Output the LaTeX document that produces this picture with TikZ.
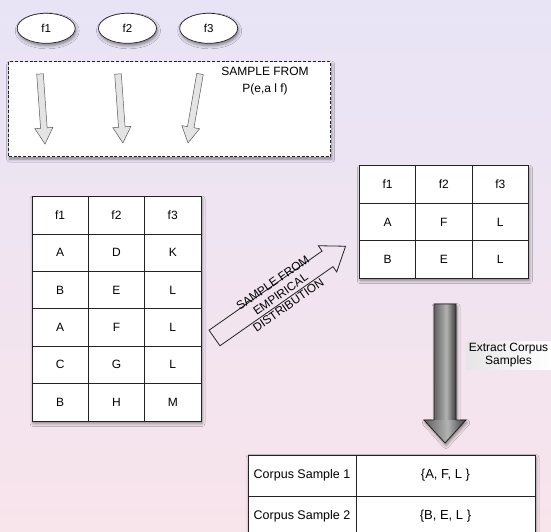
\documentclass[tikz,border=0pt]{standalone}
\usepackage{fontspec}
\setmainfont{Liberation Sans}
\usetikzlibrary{shapes.geometric,shadows.blur}

\definecolor{bgtop}{RGB}{232,228,246}
\definecolor{bgbottom}{RGB}{248,228,235}
\definecolor{ink}{RGB}{35,35,35}
\definecolor{paleblock}{RGB}{228,228,228}

% metallic look for the big down arrow (path box maps to 25bp..75bp)
\pgfdeclarehorizontalshading{cylgray}{100bp}{color(0bp)=(black!62); color(25bp)=(black!62); color(53bp)=(black!30); color(75bp)=(black!78); color(100bp)=(black!78)}

\tikzset{
  softshadow/.style={blur shadow={shadow xshift=1pt, shadow yshift=-2.5pt, shadow blur radius=3pt, shadow opacity=45}},
  fnode/.style={ellipse, draw=ink, line width=0.7pt, fill=white, minimum width=58pt, minimum height=30pt, inner sep=0pt, softshadow, font=\fontsize{11.5}{13}\selectfont},
  cell/.style={draw=ink, line width=0.8pt, inner sep=0pt, anchor=center},
  thinblock/.style={draw=black!65, fill=paleblock, line width=0.5pt, line join=miter},
  hollowblock/.style={draw=ink, line width=0.8pt, line join=miter},
  % block arrow along local x: length, shaft half width, head half width, head length
  pics/blockarrow/.style n args={4}{code={
    \path[pic actions] (0,-#2) -- ({#1-#4},-#2) -- ({#1-#4},-#3) -- (#1,0) -- ({#1-#4},#3) -- ({#1-#4},#2) -- (0,#2) -- cycle;}},
}

\begin{document}
\begin{tikzpicture}[x=1pt,y=-1pt]
\useasboundingbox (0,0) rectangle (551,532);
\clip (0,0) rectangle (551,532);
\shade[top color=bgtop, bottom color=bgbottom] (0,0) rectangle (551,532);

% foreign words
\node[fnode] (f1) at (46.2,28.3) {f1};
\node[fnode] (f2) at (127.5,28.3) {f2};
\node[fnode] (f3) at (208.7,28.3) {f3};

% sampling box
\node[draw=ink, line width=0.7pt, dash pattern=on 3pt off 1.8pt, fill=white, softshadow,
      minimum width=322pt, minimum height=95pt, inner sep=0pt] (pbox) at (169.7,109.2) {};
\node[font=\fontsize{12}{16.6}\selectfont, align=center, inner sep=0pt] (plabel) at (265,81) {SAMPLE FROM\\P(e,a l f)};
\pic[thinblock, rotate=-85.9] at (40,74) {blockarrow={70.2}{3.3}{9}{16}};
\pic[thinblock, rotate=-85.9] at (118,74) {blockarrow={69.2}{3.3}{9}{16}};
\pic[thinblock, rotate=-99.9] at (200,74) {blockarrow={70}{3.3}{9}{16}};

% empirical table
\fill[white, softshadow] (32,196.5) rectangle (201,421);
\begin{scope}[font=\fontsize{12}{14}\selectfont]
\foreach \row [count=\r] in {{f1,f2,f3},{A,D,K},{B,E,L},{A,F,L},{C,G,L},{B,H,M}} {
  \foreach \val [count=\c] in \row {
    \node[cell, minimum width=56.3pt, minimum height=37.4pt] (L-\r-\c)
      at ({32+56.3*(\c-0.5)}, {196.5+37.4*(\r-0.5)}) {\val};
  }
}
\end{scope}

% sampled table
\fill[white, softshadow] (359.3,165.7) rectangle (528.5,278.2);
\begin{scope}[font=\fontsize{12}{14}\selectfont]
\foreach \row [count=\r] in {{f1,f2,f3},{A,F,L},{B,E,L}} {
  \foreach \val [count=\c] in \row {
    \node[cell, minimum width=56.4pt, minimum height=37.5pt] (R-\r-\c)
      at ({359.3+56.4*(\c-0.5)}, {165.7+37.5*(\r-0.5)}) {\val};
  }
}
\end{scope}

% diagonal arrow between the tables
\pic[hollowblock, rotate=35] at (214.5,338) {blockarrow={160}{9.5}{16}{22}};
\node[rotate=35, align=center, inner sep=0pt, font=\fontsize{11.8}{13.6}\selectfont] (emplabel) at (280.5,294) {SAMPLE FROM\\EMPIRICAL\\DISTRIBUTION};

% big shaded arrow down to the corpus samples
\path[fill=black!60, softshadow] (434,304) -- (456,304) -- (456,420) -- (466,420) -- (445,443) -- (424,420) -- (434,420) -- cycle;
\shade[shading=cylgray] (434,304) rectangle (456,420);
\shade[shading=cylgray] (424,420) -- (466,420) -- (445,443) -- cycle;
\draw[ink, line width=0.8pt, line join=miter] (434,304) -- (456,304) -- (456,420) -- (466,420) -- (445,443) -- (424,420) -- (434,420) -- cycle;
\node[left color=black!10, right color=white, minimum width=85pt, minimum height=28pt, inner sep=0pt,
      align=center, font=\fontsize{12}{12.2}\selectfont] (extract) at (508.5,355) {Extract Corpus\\Samples};

% corpus samples table
\fill[white, softshadow] (248,455) rectangle (535,540);
\node[cell, minimum width=108pt, minimum height=41pt, font=\fontsize{12.5}{14}\selectfont] (C-1-1) at (302,475.5) {Corpus Sample 1};
\node[cell, minimum width=179pt, minimum height=41pt, font=\fontsize{13}{15}\selectfont] (C-1-2) at (445.5,475.5) {\{A, F, L \}};
\node[cell, minimum width=108pt, minimum height=40pt, font=\fontsize{12.5}{14}\selectfont] (C-2-1) at (302,516) {Corpus Sample 2};
\node[cell, minimum width=179pt, minimum height=40pt, font=\fontsize{13}{15}\selectfont] (C-2-2) at (445.5,516) {\{B, E, L \}};
\end{tikzpicture}
\end{document}
